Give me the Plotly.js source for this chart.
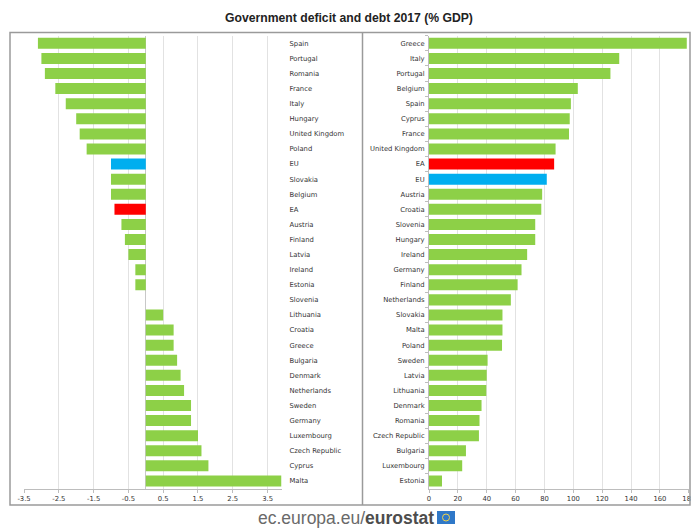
<!DOCTYPE html>
<html>
<head>
<meta charset="utf-8">
<script src="https://cdn.plot.ly/plotly-3.0.1.min.js"></script>
<style>html,body{margin:0;padding:0;background:#fff;}#chart{width:691px;height:528px;}</style>
</head>
<body>
<div id="chart"></div>
<script>
// Left panel: government deficit/surplus 2017 (% GDP)
var deficitCountries = ['Spain','Portugal','Romania','France','Italy','Hungary','United Kingdom','Poland','EU','Slovakia','Belgium','EA','Austria','Finland','Latvia','Ireland','Estonia','Slovenia','Lithuania','Croatia','Greece','Bulgaria','Denmark','Netherlands','Sweden','Germany','Luxembourg','Czech Republic','Cyprus','Malta'];
var deficitValues = [-3.1,-3.0,-2.9,-2.6,-2.3,-2.0,-1.9,-1.7,-1.0,-1.0,-1.0,-0.9,-0.7,-0.6,-0.5,-0.3,-0.3,0.0,0.5,0.8,0.8,0.9,1.0,1.1,1.3,1.3,1.5,1.6,1.8,3.9];

// Right panel: government debt 2017 (% GDP)
var debtCountries = ['Greece','Italy','Portugal','Belgium','Spain','Cyprus','France','United Kingdom','EA','EU','Austria','Croatia','Slovenia','Hungary','Ireland','Germany','Finland','Netherlands','Slovakia','Malta','Poland','Sweden','Latvia','Lithuania','Denmark','Romania','Czech Republic','Bulgaria','Luxembourg','Estonia'];
var debtValues = [178.6,131.8,125.7,103.1,98.3,97.5,97.0,87.7,86.7,81.6,78.4,77.8,73.6,73.6,68.0,64.1,61.4,56.7,50.9,50.9,50.6,40.6,40.0,39.7,36.4,35.0,34.6,25.6,23.0,9.0];

var deficitTicks = [-3.5,-2.5,-1.5,-0.5,0.5,1.5,2.5,3.5];
var debtTicks = [0,20,40,60,80,100,120,140,160,180];

var GREEN = '#8dd047', RED = '#ff0000', BLUE = '#00aeef';
function colorFor(c){ return c === 'EU' ? BLUE : (c === 'EA' ? RED : GREEN); }

var W = 691, H = 528;
function px(x){ return x / W; }
function py(y){ return 1 - y / H; }

var labelFont = {family: 'DejaVu Sans, Verdana, sans-serif', size: 6.8, color: '#333'};

var traces = [
  {type:'bar', orientation:'h', x: deficitValues, y: deficitCountries,
   xaxis:'x', yaxis:'y', marker:{color: deficitCountries.map(colorFor)}, hoverinfo:'skip'},
  {type:'bar', orientation:'h', x: debtValues, y: debtCountries,
   xaxis:'x2', yaxis:'y2', marker:{color: debtCountries.map(colorFor)}, hoverinfo:'skip'}
];

var yTop = 35.8, yBot = 488.5;

var layout = {
  width: W, height: H,
  margin: {l:0, r:0, t:0, b:0},
  paper_bgcolor: '#fff', plot_bgcolor: '#fff',
  showlegend: false,
  bargap: 0.27,
  font: labelFont,
  title: {text: 'Government deficit and debt 2017 (% GDP)', x: 0.505, xanchor:'center', y: py(18), yanchor:'middle',
          font: {family: 'Liberation Sans, Arial, sans-serif', size: 12.2, color: '#222', weight: 'bold'}},
  xaxis: {domain: [px(24), px(281.5)], range: [-3.5, 3.9], anchor: 'y',
          tickvals: deficitTicks, ticktext: deficitTicks.map(function(v){return v.toFixed(1);}),
          showgrid: true, gridcolor: '#e2e2e2', gridwidth: 1,
          zeroline: true, zerolinecolor: '#c8c8c8', zerolinewidth: 1,
          showline: true, linecolor: '#bdbdbd', linewidth: 1,
          ticks: 'outside', ticklen: 3, tickcolor: '#bdbdbd', tickfont: labelFont, fixedrange: true},
  yaxis: {domain: [py(yBot), py(yTop)], anchor: 'x', side: 'right', autorange: 'reversed',
          type: 'category', showgrid: false, zeroline: false, showline: false, ticks: '',
          ticklabelstandoff: 7, tickfont: labelFont, fixedrange: true},
  xaxis2: {domain: [px(429), px(688.8)], range: [0, 180], anchor: 'y2',
          tickvals: debtTicks, ticktext: debtTicks.map(String), ticklabeloverflow: 'allow',
          showgrid: true, gridcolor: '#e2e2e2', gridwidth: 1, zeroline: false,
          showline: true, linecolor: '#bdbdbd', linewidth: 1,
          ticks: 'outside', ticklen: 3, tickcolor: '#bdbdbd', tickfont: labelFont, fixedrange: true},
  yaxis2: {domain: [py(yBot), py(yTop)], anchor: 'x2', side: 'left', autorange: 'reversed',
          type: 'category', showgrid: false, zeroline: false,
          showline: true, linecolor: '#bdbdbd', linewidth: 1,
          ticks: 'outside', tickson: 'boundaries', ticklen: 3, tickcolor: '#bdbdbd',
          ticklabelstandoff: 2, tickfont: labelFont, fixedrange: true},
  shapes: [
    {type:'rect', xref:'paper', yref:'paper', x0: px(10), x1: px(690), y0: py(505), y1: py(32.5),
     line:{color:'#9a9a9a', width:1.5}, fillcolor:'rgba(0,0,0,0)', layer:'above'},
    {type:'line', xref:'paper', yref:'paper', x0: px(362.5), x1: px(362.5), y0: py(505), y1: py(32.5),
     line:{color:'#9a9a9a', width:1.5}, layer:'above'},
    // EU flag logo next to footer
    {type:'rect', xref:'paper', yref:'paper', x0: px(437), x1: px(455), y0: py(524), y1: py(511),
     line:{width:0}, fillcolor:'#2f78c8'},
    {type:'circle', xref:'paper', yref:'paper', x0: px(442.5), x1: px(449.5), y0: py(521), y1: py(514),
     line:{color:'#f2d24a', width:1}, fillcolor:'rgba(0,0,0,0)'}
  ],
  annotations: [
    {xref:'paper', yref:'paper', x: px(436), y: py(518), xanchor:'right', yanchor:'middle', showarrow:false,
     text: '<span style="color:#6a6a6a">ec.europa.eu/</span><b style="color:#4d4d4d">eurostat</b>',
     font: {family:'Liberation Sans, Arial, sans-serif', size: 17.5, color:'#666'}}
  ]
};

Plotly.newPlot('chart', traces, layout, {staticPlot: true, displayModeBar: false});
</script>
</body>
</html>
